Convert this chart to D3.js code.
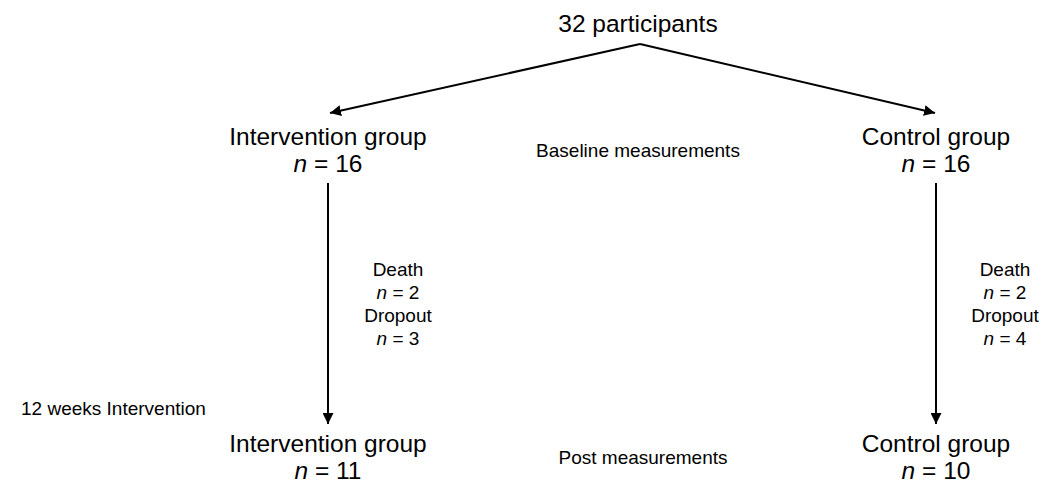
<!DOCTYPE html>
<html><head><meta charset="utf-8">
<script src="https://cdn.jsdelivr.net/npm/d3@7"></script>
<style>body{margin:0;background:#fff}svg{display:block}text{font-family:"Liberation Sans",Arial,sans-serif;fill:#000}</style>
</head><body><div id="chart"></div>
<script>
const total = 32;
const groups = ["Intervention group", "Control group"];
const baselineN = [16, 16];
const deaths = [2, 2];
const dropouts = [3, 4];
const postN = [11, 10];
const phases = ["Baseline measurements", "Post measurements"];
const periodLabel = "12 weeks Intervention";

const W = 1054, H = 485;
const svg = d3.select("#chart").append("svg").attr("width", W).attr("height", H);
const x = d3.scalePoint().domain(groups).range([328, 936]);
const mid = 638;
const big = 24.5, small = 19;

svg.append("defs").append("marker").attr("id","ah").attr("viewBox","0 0 10 10")
  .attr("refX",10).attr("refY",5).attr("markerWidth",5.5).attr("markerHeight",5.5)
  .attr("markerUnits","strokeWidth").attr("orient","auto")
  .append("path").attr("d","M0,0 L10,5 L0,10 z").attr("fill","#000");

svg.append("text").attr("x", mid).attr("y", 32).attr("text-anchor","middle")
  .attr("font-size", big).text(total + " participants");

// diagonal arrows
svg.selectAll(".diag").data(groups).join("line")
  .attr("x1", mid+2).attr("y1", 44).attr("x2", g => x(g) + (g===groups[0]?2:-1)).attr("y2", 113)
  .attr("stroke","#000").attr("stroke-width",2).attr("marker-end","url(#ah)");

// vertical arrows
svg.selectAll(".vert").data(groups).join("line")
  .attr("x1", g => x(g)).attr("x2", g => x(g)).attr("y1", 183).attr("y2", 424)
  .attr("stroke","#000").attr("stroke-width",2).attr("marker-end","url(#ah)");

function groupLabel(i, yTop, n) {
  const cx = x(groups[i]);
  svg.append("text").attr("x", cx).attr("y", yTop).attr("text-anchor","middle")
    .attr("font-size", big).text(groups[i]);
  const t = svg.append("text").attr("x", cx).attr("y", yTop + 27).attr("text-anchor","middle").attr("font-size", big);
  t.append("tspan").attr("font-style","italic").text("n");
  t.append("tspan").text(" = " + n);
}
groups.forEach((g, i) => { groupLabel(i, 145, baselineN[i]); groupLabel(i, 452, postN[i]); });

svg.append("text").attr("x", mid).attr("y", 157).attr("text-anchor","middle").attr("font-size", small).text(phases[0]);
svg.append("text").attr("x", 643).attr("y", 464).attr("text-anchor","middle").attr("font-size", small).text(phases[1]);
svg.append("text").attr("x", 21).attr("y", 415).attr("font-size", small).text(periodLabel);

groups.forEach((g, i) => {
  const cx = i === 0 ? 398 : 1005;
  const lines = [["Death", null], [null, deaths[i]], ["Dropout", null], [null, dropouts[i]]];
  lines.forEach((l, j) => {
    const t = svg.append("text").attr("x", cx).attr("y", 276 + j*23).attr("text-anchor","middle").attr("font-size", small);
    if (l[0]) t.text(l[0]);
    else { t.append("tspan").attr("font-style","italic").text("n"); t.append("tspan").text(" = " + l[1]); }
  });
});
</script></body></html>
